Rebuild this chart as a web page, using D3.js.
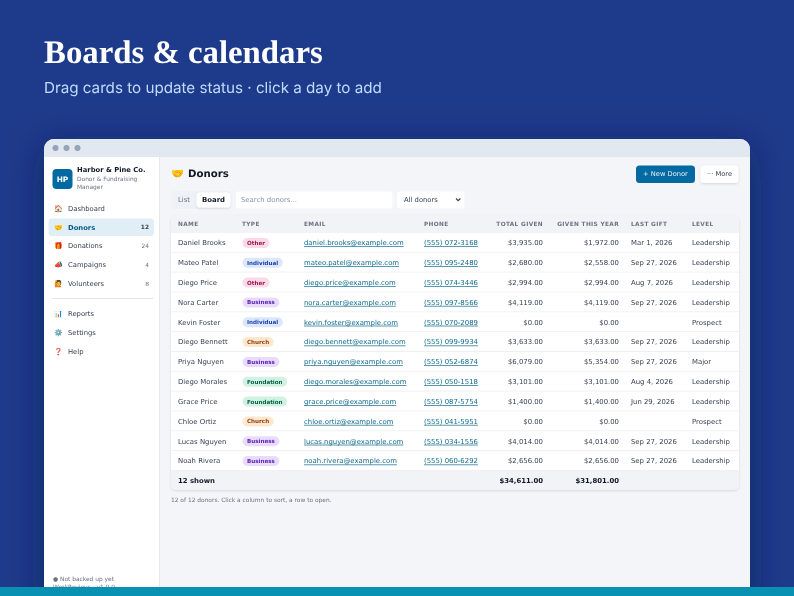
<!DOCTYPE html>
<html>
<head>
<meta charset="utf-8">
<script src="https://cdn.jsdelivr.net/npm/d3@7"></script>
<style>
html,body{margin:0;padding:0;background:#1e3a8a;overflow:hidden}
svg{display:block;filter:blur(0.3px)}
text{font-family:"DejaVu Sans",sans-serif;text-rendering:geometricPrecision}
</style>
</head>
<body>
<div id="chart"></div>
<script>
// table data
var names = ['Daniel Brooks','Mateo Patel','Diego Price','Nora Carter','Kevin Foster','Diego Bennett','Priya Nguyen','Diego Morales','Grace Price','Chloe Ortiz','Lucas Nguyen','Noah Rivera'];
var types = ['Other','Individual','Other','Business','Individual','Church','Business','Foundation','Foundation','Church','Business','Business'];
var emails = ['daniel.brooks','mateo.patel','diego.price','nora.carter','kevin.foster','diego.bennett','priya.nguyen','diego.morales','grace.price','chloe.ortiz','lucas.nguyen','noah.rivera'];
var phones = ['072-3168','095-2480','074-3446','097-8566','070-2089','099-9934','052-6874','050-1518','087-5754','041-5951','034-1556','060-6292'];
var totalGiven = [3935,2680,2994,4119,0,3633,6079,3101,1400,0,4014,2656];
var givenThisYear = [1972,2558,2994,4119,0,3633,5354,3101,1400,0,4014,2656];
var lastGift = ['Mar 1, 2026','Sep 27, 2026','Aug 7, 2026','Sep 27, 2026','','Sep 27, 2026','Sep 27, 2026','Aug 4, 2026','Jun 29, 2026','','Sep 27, 2026','Sep 27, 2026'];
var levels = ['Leadership','Leadership','Leadership','Leadership','Prospect','Leadership','Major','Leadership','Leadership','Prospect','Leadership','Leadership'];
var columns = ['NAME','TYPE','EMAIL','PHONE','TOTAL GIVEN','GIVEN THIS YEAR','LAST GIFT','LEVEL'];
var columnX = [178,242,304,424,543,619,631,692];
var navTop = [['🏠','Dashboard',''],['🤝','Donors','12'],['🎁','Donations','24'],['📣','Campaigns','4'],['🙋','Volunteers','8']];
var navBottom = [['📊','Reports'],['⚙️','Settings'],['❓','Help']];
var badgeFill = {Other:'#fbd9e8',Individual:'#dbe7fd',Business:'#e9dcfb',Church:'#fde8cf',Foundation:'#d1f2e2'};
var badgeText = {Other:'#9d174d',Individual:'#1e40af',Business:'#5b21b6',Church:'#92400e',Foundation:'#065f46'};

var money = d3.format('$,.2f');
var rowY = d3.scaleBand().domain(d3.range(names.length)).range([233,471]);

var svg = d3.select('#chart').append('svg').attr('width',794).attr('height',596);
var defs = svg.append('defs');
var shadow = defs.append('filter').attr('id','shadow').attr('x','-20%').attr('y','-20%').attr('width','140%').attr('height','140%');
shadow.append('feDropShadow').attr('dx',0).attr('dy',8).attr('stdDeviation',16).attr('flood-color','#0b1a4a').attr('flood-opacity',0.6);
var soft = defs.append('filter').attr('id','soft').attr('x','-10%').attr('y','-10%').attr('width','120%').attr('height','130%');
soft.append('feDropShadow').attr('dx',0).attr('dy',1).attr('stdDeviation',1).attr('flood-color','#0f172a').attr('flood-opacity',0.12);

function label(parent,x,y,str,size,color,weight,anchor){
  return parent.append('text').attr('x',x).attr('y',y).attr('dy','0.35em')
    .attr('font-size',size).attr('fill',color).attr('font-weight',weight||400)
    .attr('text-anchor',anchor||'start').text(str);
}

// backdrop and heading
svg.append('rect').attr('width',794).attr('height',596).attr('fill','#1e3a8a');
label(svg,44,52,'Boards & calendars',32.8,'#ffffff',700).style('font-family','"Liberation Serif",serif');
label(svg,44,87.5,'Drag cards to update status · click a day to add',15.2,'#bfdbfe',400).style('font-family','Inter,sans-serif');

// app window
svg.append('rect').attr('x',44).attr('y',139).attr('width',706).attr('height',470).attr('rx',10).attr('fill','#f3f5f8').attr('filter','url(#shadow)');
svg.append('path').attr('d','M44 157V149a10 10 0 0 1 10-10H740a10 10 0 0 1 10 10V157Z').attr('fill','#e2e8f0');
svg.selectAll('.dot').data([55.5,66.5,77.5]).join('circle').attr('class','dot').attr('cx',function(d){return d}).attr('cy',148).attr('r',3).attr('fill','#94a3b8');

// sidebar
svg.append('rect').attr('x',44).attr('y',157).attr('width',115).attr('height',440).attr('fill','#ffffff');
svg.append('line').attr('x1',159.5).attr('x2',159.5).attr('y1',157).attr('y2',596).attr('stroke','#e5e7eb');
svg.append('rect').attr('x',52.5).attr('y',169).attr('width',20).attr('height',20).attr('rx',4).attr('fill','#0369a1');
label(svg,62.5,179,'HP',7.4,'#ffffff',700,'middle');
label(svg,77,170,'Harbor & Pine Co.',6.8,'#111827',700);
label(svg,77,178.5,'Donor & Fundraising',5.9,'#6b7280');
label(svg,77,187,'Manager',5.9,'#6b7280');

svg.append('rect').attr('x',48.5).attr('y',218.5).attr('width',105.5).attr('height',17.5).attr('rx',3.5).attr('fill','#e0eff6');
var navY = d3.scalePoint().domain(d3.range(navTop.length)).range([208.5,283.5]);
navTop.forEach(function(d,i){
  var active = d[1]=='Donors';
  label(svg,54,navY(i),d[0],7,'#000');
  label(svg,68,navY(i),d[1],6.8,active?'#075985':'#374151',active?700:400);
  label(svg,149,navY(i),d[2],5.9,active?'#374151':'#6b7280',active?700:400,'end');
});
svg.append('line').attr('x1',52).attr('x2',153).attr('y1',298.5).attr('y2',298.5).attr('stroke','#e5e7eb');
var navY2 = d3.scalePoint().domain(d3.range(navBottom.length)).range([313.5,351.5]);
navBottom.forEach(function(d,i){
  label(svg,54,navY2(i),d[0],7,'#000');
  label(svg,68,navY2(i),d[1],6.8,'#374151');
});
label(svg,53,578.5,'● Not backed up yet',5.9,'#6b7280');
label(svg,53,587,'WorkRevious · v1.0.0',5.9,'#6b7280');

// page header
label(svg,171,173.5,'🤝',10.4,'#000');
label(svg,188,173.5,'Donors',10.2,'#111827',700);
svg.append('rect').attr('x',636).attr('y',165.5).attr('width',59).attr('height',17.5).attr('rx',3.5).attr('fill','#0369a1');
label(svg,665.5,174,'+ New Donor',6.7,'#e6f2f8',400,'middle');
svg.append('rect').attr('x',700.5).attr('y',165.5).attr('width',38).attr('height',17.5).attr('rx',3.5).attr('fill','#ffffff').attr('filter','url(#soft)');
label(svg,719.5,174,'··· More',6.7,'#374151',400,'middle');

// toolbar
svg.append('rect').attr('x',171).attr('y',191).attr('width',60).attr('height',18).attr('rx',4).attr('fill','#eef1f5');
label(svg,178,199.5,'List',6.9,'#6b7280');
svg.append('rect').attr('x',196.5).attr('y',192.5).attr('width',34).attr('height',15).attr('rx',3.5).attr('fill','#ffffff').attr('filter','url(#soft)');
label(svg,213.5,199.5,'Board',6.9,'#111827',700,'middle');
svg.append('rect').attr('x',236).attr('y',191.5).attr('width',156.5).attr('height',17).attr('rx',3).attr('fill','#ffffff');
label(svg,241,199.5,'Search donors...',6.9,'#8a94a3');
svg.append('rect').attr('x',397).attr('y',191.5).attr('width',67.5).attr('height',17).attr('rx',3).attr('fill','#ffffff');
label(svg,404,199.5,'All donors',6.8,'#374151');
svg.append('path').attr('d','M456 198.5l2.2 2.2 2.2-2.2').attr('fill','none').attr('stroke','#374151').attr('stroke-width',1.1);

// table card
svg.append('rect').attr('x',171).attr('y',215).attr('width',568).attr('height',275).attr('rx',5).attr('fill','#f1f3f6').attr('filter','url(#soft)');
svg.selectAll('.head').data(columns).join('text').attr('class','head')
  .attr('x',function(d,i){return columnX[i]}).attr('y',223.5).attr('dy','0.35em')
  .attr('text-anchor',function(d,i){return i==4||i==5?'end':'start'})
  .attr('font-size',5.8).attr('font-weight',700).attr('letter-spacing',0.35).attr('fill','#6b7280').text(function(d){return d});

var rows = svg.selectAll('.row').data(names).join('g').attr('class','row')
  .attr('transform',function(d,i){return 'translate(0,'+rowY(i)+')'});
var mid = rowY.bandwidth()/2;
rows.append('rect').attr('x',171).attr('width',568).attr('height',rowY.bandwidth()).attr('fill','#ffffff');
rows.append('line').attr('x1',171).attr('x2',739).attr('y1',rowY.bandwidth()-0.5).attr('y2',rowY.bandwidth()-0.5).attr('stroke','#eef0f3');
rows.each(function(d,i){
  var g = d3.select(this);
  label(g,columnX[0],mid,d,6.9,'#374151');
  var t = types[i];
  var b = label(g,247,mid,t,5.6,badgeText[t],700);
  var w = b.node().getComputedTextLength();
  g.insert('rect','text:last-of-type').attr('x',242.5).attr('y',mid-5).attr('width',w+9).attr('height',10).attr('rx',5).attr('fill',badgeFill[t]);
  label(g,columnX[2],mid,emails[i]+'@example.com',6.9,'#0e6a8c').attr('text-decoration','underline');
  label(g,columnX[3],mid,'(555) '+phones[i],6.9,'#0e6a8c').attr('text-decoration','underline');
  label(g,columnX[4],mid,money(totalGiven[i]),6.9,'#374151',400,'end');
  label(g,columnX[5],mid,money(givenThisYear[i]),6.9,'#374151',400,'end');
  label(g,columnX[6],mid,lastGift[i],6.9,'#374151');
  label(g,columnX[7],mid,levels[i],6.9,'#374151');
});

// totals
label(svg,178,480.5,names.length+' shown',6.9,'#111827',700);
label(svg,543,480.5,money(d3.sum(totalGiven)),6.9,'#111827',700,'end');
label(svg,619,480.5,money(d3.sum(givenThisYear)),6.9,'#111827',700,'end');
label(svg,171,500,'12 of 12 donors. Click a column to sort, a row to open.',5.9,'#6b7280');

// bottom strip
svg.append('rect').attr('x',0).attr('y',587).attr('width',794).attr('height',9).attr('fill','#0891b2');
</script>
</body>
</html>
